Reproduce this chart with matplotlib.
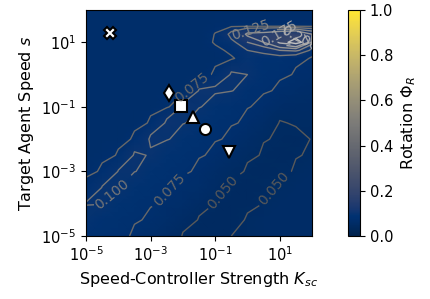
import numpy as np
import matplotlib
matplotlib.use("Agg")
import matplotlib.pyplot as plt
from matplotlib.colors import Normalize

# log10 grid positions of the rotation map
log_ksc = [-5, -4.5, -4, -3.5, -3, -2.5, -2, -1.5, -1, -0.5, 0, 0.5, 1, 1.5, 2]
log_speed = [-5, -4.5, -4, -3.5, -3, -2.5, -2, -1.5, -1, -0.5, 0, 0.5, 0.75, 1, 1.25, 1.5, 2]

# rotation order parameter, rows follow log_speed, columns follow log_ksc
rotation = [
    [.088, .084, .079, .072, .066, .058, .049, .046, .045, .050, .053, .055, .056, .056, .056],
    [.094, .088, .083, .077, .071, .064, .056, .049, .046, .045, .052, .055, .056, .056, .056],
    [.101, .1005, .090, .083, .077, .070, .063, .056, .049, .046, .045, .051, .055, .056, .056],
    [.082, .101, .1005, .091, .085, .078, .070, .063, .055, .048, .046, .047, .052, .055, .056],
    [.068, .080, .101, .1005, .092, .085, .078, .070, .062, .054, .048, .046, .047, .052, .055],
    [.064, .067, .078, .103, .098, .092, .085, .077, .069, .062, .053, .048, .046, .049, .053],
    [.063, .064, .066, .080, .104, .101, .092, .085, .077, .070, .062, .051, .047, .046, .051],
    [.063, .063, .064, .066, .079, .105, .101, .092, .085, .077, .070, .060, .049, .052, .053],
    [.063, .063, .063, .064, .066, .072, .105, .101, .090, .083, .076, .068, .060, .057, .056],
    [.063, .063, .063, .063, .064, .065, .066, .102, .104, .101, .085, .078, .070, .064, .060],
    [.064, .064, .064, .064, .064, .064, .065, .066, .080, .103, .100, .087, .080, .072, .068],
    [.064, .064, .064, .064, .064, .064, .064, .065, .066, .072, .096, .088, .090, .082, .072],
    [.064, .064, .064, .064, .064, .064, .064, .065, .070, .082, .100, .110, .125, .130, .090],
    [.064, .064, .064, .064, .064, .064, .064, .066, .078, .095, .125, .150, .210, .250, .140],
    [.064, .064, .064, .064, .064, .064, .064, .066, .076, .110, .160, .165, .180, .190, .150],
    [.064, .064, .064, .064, .064, .064, .064, .065, .068, .072, .073, .073, .073, .073, .072],
    [.064, .064, .064, .064, .064, .064, .064, .064, .064, .064, .064, .064, .064, .064, .064],
]

# parameter sets marked on the map
mark_ksc = [5.5e-5, 3.8e-3, 8.7e-3, 2.0e-2, 4.7e-2, 2.7e-1]
mark_speed = [19, 0.26, 0.11, 0.047, 0.021, 0.004]
mark_style = ['X', 'd', 's', '^', 'o', 'v']

levels = [0.05, 0.075, 0.1, 0.125, 0.15, 0.175, 0.2, 0.225]
xticks = [1e-5, 1e-3, 1e-1, 1e1]
yticks = [1e-5, 1e-3, 1e-1, 1e1]

X, Y = np.meshgrid(10.0 ** np.array(log_ksc), 10.0 ** np.array(log_speed))
Z = np.array(rotation)

fig = plt.figure(figsize=(4.3, 2.99), dpi=100)
ax = fig.add_axes([0.2, 0.2107, 0.5256, 0.7559])
cax = fig.add_axes([0.8093, 0.2107, 0.028, 0.7559])

mesh = ax.pcolormesh(X, Y, Z, cmap='cividis', vmin=0, vmax=1, shading='gouraud')
cs = ax.contour(X, Y, Z, levels=levels, cmap='gray',
                norm=Normalize(vmin=-0.1, vmax=0.33), linewidths=1.0)
ax.set_xscale('log')
ax.set_yscale('log')
ax.set_xlim(1e-5, 1e2)
ax.set_ylim(1e-5, 1e2)

label_spots = [(10**-4.3, 10**-3.6), (10**-1.85, 10**-0.3), (10**-2.4, 10**-3.6),
               (10**-0.8, 10**-3.6), (10**0.8, 10**-3.5), (10**0.1, 10**1.35),
               (10**1.0, 10**1.3), (10**1.6, 10**1.1)]
ax.clabel(cs, fmt='%.3f', fontsize=10, inline=True, manual=label_spots)

for kx, sy, m in zip(mark_ksc, mark_speed, mark_style):
    ax.plot(kx, sy, marker=m, ms=8, mfc='white', mec='black', mew=1.5, ls='none')

ax.set_xticks(xticks)
ax.set_yticks(yticks)
ax.xaxis.set_minor_locator(matplotlib.ticker.NullLocator())
ax.yaxis.set_minor_locator(matplotlib.ticker.NullLocator())
ax.tick_params(labelsize=10.5)
ax.set_xlabel('Speed-Controller Strength $K_{sc}$', fontsize=11.5)
ax.set_ylabel('Target Agent Speed $s$', fontsize=11.5)

cb = fig.colorbar(mesh, cax=cax)
cb.set_ticks([0.0, 0.2, 0.4, 0.6, 0.8, 1.0])
cb.ax.tick_params(labelsize=10.5)
cb.set_label('Rotation $\\Phi_R$', fontsize=11.5)

fig.savefig('out.png', dpi=100)
